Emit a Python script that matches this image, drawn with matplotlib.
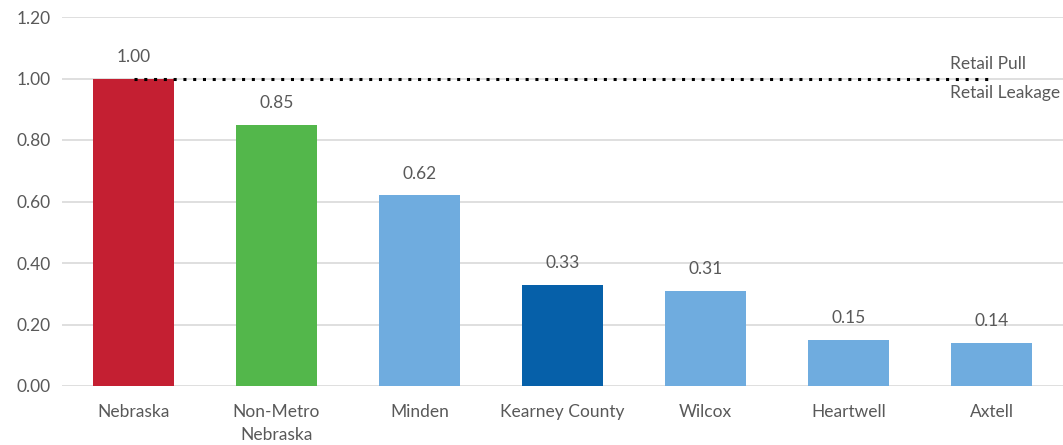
import matplotlib
matplotlib.use("Agg")
import matplotlib.pyplot as plt

plt.rcParams['font.family'] = ['Lato', 'DejaVu Sans']

categories = ['Nebraska', 'Non-Metro\nNebraska', 'Minden', 'Kearney County', 'Wilcox', 'Heartwell', 'Axtell']
values = [1.00, 0.85, 0.62, 0.33, 0.31, 0.15, 0.14]
colors = ['#C41F32', '#53B74B', '#6FACDF', '#0660A9', '#6FACDF', '#6FACDF', '#6FACDF']
yticks = [0.0, 0.2, 0.4, 0.6, 0.8, 1.0, 1.2]

text_color = '#595959'
grid_color = '#D9D9D9'

fig = plt.figure(figsize=(10.63, 4.45), dpi=100)
ax = fig.add_axes([62 / 1063, 1 - 386 / 445, 1 - 62 / 1063, (386 - 17) / 445])

x = list(range(len(categories)))
ax.bar(x, values, width=0.57, color=colors, zorder=3)

for xi, v in zip(x, values):
    ax.text(xi, v + 0.045, f'{v:.2f}', ha='center', va='bottom', fontsize=12.5, color=text_color)

# reference line at 1.0
ax.plot([0, 6], [1.0, 1.0], color='black', linestyle=(0, (1, 2.2)), linewidth=2.2, zorder=4)
ax.text(5.71, 1.047, 'Retail Pull', ha='left', va='center', fontsize=12.5, color=text_color)
ax.text(5.71, 0.953, 'Retail Leakage', ha='left', va='center', fontsize=12.5, color=text_color)

ax.set_xlim(-0.5, 6.5)
ax.set_ylim(0, 1.2)
ax.set_yticks(yticks)
ax.set_yticklabels([f'{t:.2f}' for t in yticks])
ax.set_xticks(x)
ax.set_xticklabels(categories, linespacing=1.5)
ax.yaxis.grid(True, color=grid_color, linewidth=1.2, zorder=0)
ax.set_axisbelow(True)
for s in ax.spines.values():
    s.set_visible(False)
ax.tick_params(axis='both', length=0, colors=text_color, labelsize=12.5)
ax.tick_params(axis='x', pad=13)
ax.tick_params(axis='y', pad=8)

fig.savefig('out.png', dpi=100)
